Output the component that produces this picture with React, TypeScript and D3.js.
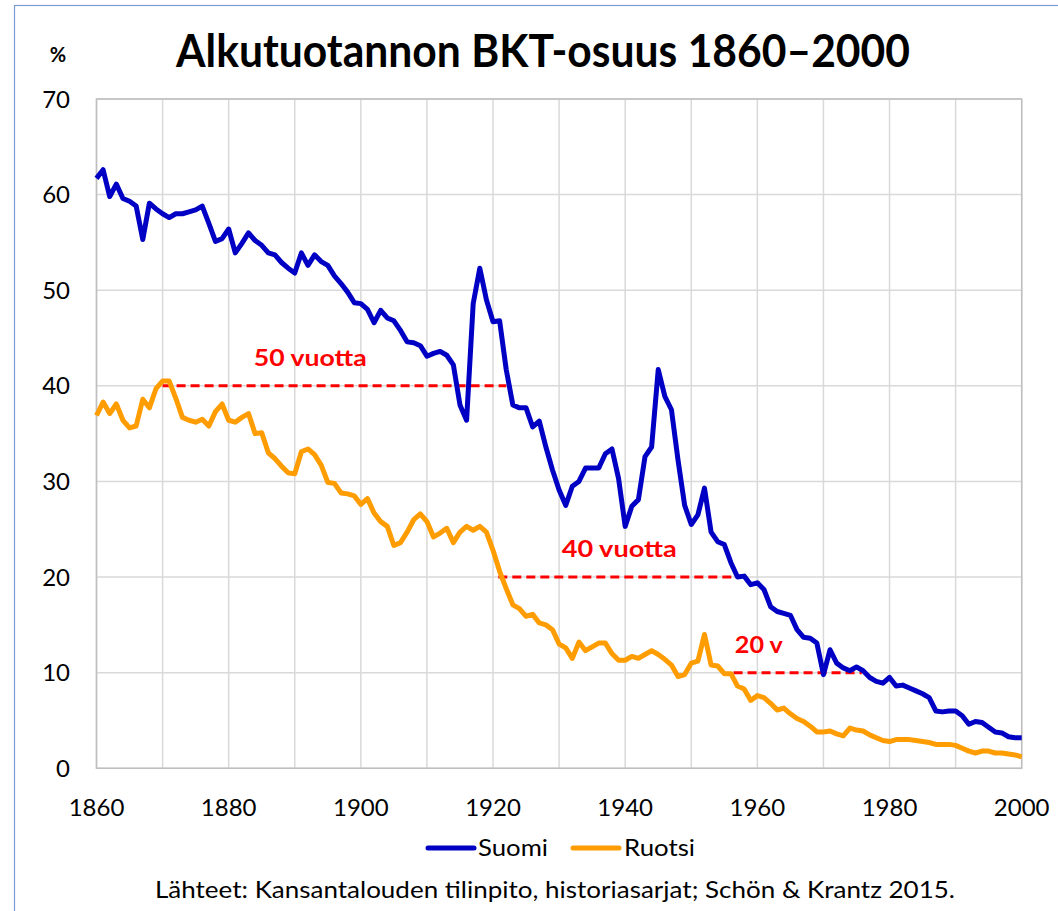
import React from 'react';
import * as d3 from 'd3';

// vuodet 1860–2000
const firstYear = 1860;
const lastYear = 2000;

const suomi = [
  61.7, 62.6, 59.8, 61.1, 59.6, 59.3, 58.8, 55.3, 59.1, 58.5,
  58.0, 57.6, 58.0, 58.0, 58.2, 58.4, 58.8, 57.0, 55.1, 55.4,
  56.4, 53.9, 54.9, 56.0, 55.2, 54.7, 53.9, 53.7, 52.9, 52.3,
  51.8, 53.9, 52.6, 53.7, 53.0, 52.6, 51.5, 50.7, 49.8, 48.7,
  48.6, 48.0, 46.6, 47.9, 47.1, 46.8, 45.8, 44.6, 44.5, 44.2,
  43.1, 43.4, 43.6, 43.2, 42.2, 38.0, 36.4, 48.6, 52.3, 49.0,
  46.7, 46.8, 41.7, 38.0, 37.7, 37.7, 35.7, 36.3, 33.6, 31.2,
  29.1, 27.5, 29.5, 30.0, 31.4, 31.4, 31.4, 32.9, 33.4, 30.3,
  25.3, 27.4, 28.1, 32.6, 33.6, 41.7, 38.9, 37.5, 32.2, 27.5,
  25.5, 26.5, 29.3, 24.7, 23.7, 23.4, 21.5, 20.0, 20.1, 19.2,
  19.4, 18.7, 16.9, 16.4, 16.2, 16.0, 14.5, 13.7, 13.6, 13.1,
  9.8, 12.4, 11.0, 10.5, 10.2, 10.6, 10.2, 9.5, 9.1, 8.9,
  9.5, 8.6, 8.7, 8.4, 8.1, 7.8, 7.4, 6.0, 5.9, 6.0,
  6.0, 5.5, 4.6, 4.9, 4.8, 4.3, 3.8, 3.7, 3.3, 3.2,
  3.2,
];

const ruotsi = [
  36.9, 38.3, 37.1, 38.1, 36.4, 35.6, 35.8, 38.6, 37.7, 39.7,
  40.5, 40.5, 38.7, 36.7, 36.4, 36.2, 36.5, 35.8, 37.3, 38.1,
  36.4, 36.2, 36.7, 37.1, 35.0, 35.1, 33.0, 32.4, 31.6, 30.9,
  30.8, 33.1, 33.4, 32.8, 31.7, 29.9, 29.8, 28.8, 28.7, 28.5,
  27.6, 28.2, 26.7, 25.8, 25.3, 23.3, 23.6, 24.7, 26.0, 26.6,
  25.8, 24.2, 24.6, 25.1, 23.6, 24.7, 25.3, 24.9, 25.3, 24.7,
  22.8, 20.6, 18.8, 17.1, 16.7, 15.9, 16.1, 15.2, 15.0, 14.5,
  13.0, 12.6, 11.5, 13.2, 12.3, 12.7, 13.1, 13.1, 12.0, 11.3,
  11.3, 11.7, 11.5, 11.9, 12.3, 11.9, 11.4, 10.8, 9.6, 9.8,
  11.0, 11.2, 14.0, 10.8, 10.7, 9.9, 9.9, 8.6, 8.3, 7.1,
  7.6, 7.4, 6.8, 6.1, 6.3, 5.7, 5.2, 4.9, 4.4, 3.8,
  3.8, 3.9, 3.6, 3.4, 4.2, 4.0, 3.9, 3.5, 3.2, 2.9,
  2.8, 3.0, 3.0, 3.0, 2.9, 2.8, 2.7, 2.5, 2.5, 2.5,
  2.4, 2.1, 1.8, 1.6, 1.8, 1.8, 1.6, 1.6, 1.5, 1.4,
  1.2,
];

const xTicks = [1860, 1880, 1900, 1920, 1940, 1960, 1980, 2000];
const yTicks = [0, 10, 20, 30, 40, 50, 60, 70];

// katkoviivat: taso, alku, loppu, teksti
const gapLevels = [40, 20, 10];
const gapStart = [1870, 1920.8, 1956.4];
const gapEnd = [1922, 1956.6, 1975.8];
const gapLabels = ['50 vuotta', '40 vuotta', '20 v'];
const gapLabelYear = [1883.8, 1930.4, 1956.6];
const gapLabelWidth = [113, 115, 48];

const font = 'Lato, "Open Sans", sans-serif';
const blue = '#0000c4';
const orange = '#ff9c00';

export default function App() {
  const width = 1058;
  const height = 911;
  const left = 96.5, right = 1021.7, top = 99, bottom = 768.3;

  const x = d3.scaleLinear().domain([firstYear, lastYear]).range([left, right]);
  const y = d3.scaleLinear().domain([0, 70]).range([bottom, top]);

  const years = d3.range(firstYear, lastYear + 1);
  const line = d3.line<number>()
    .x((d, i) => x(years[i]))
    .y(d => y(d));

  const vGrid = d3.range(firstYear, lastYear + 1, 10);

  return (
    <svg width={width} height={height} style={{ position: 'absolute', left: 0, top: 0 }} fontFamily={font}>
      <rect x={0} y={0} width={width} height={height} fill="#fff" />
      <rect x={14.5} y={5.5} width={width + 50} height={height + 50} fill="none" stroke="#7b9dd2" strokeWidth={1.2} />

      <text x={543} y={67} textAnchor="middle" fontSize={46} fontWeight={700} textLength={734} lengthAdjust="spacingAndGlyphs">Alkutuotannon BKT-osuus 1860–2000</text>
      <text x={58} y={62} textAnchor="middle" fontSize={20} fontWeight={700}>%</text>

      {/* ruudukko */}
      {yTicks.map(t => (
        <line key={'h' + t} x1={left} x2={right} y1={y(t)} y2={y(t)} stroke="#d9d9d9" strokeWidth={1.5} />
      ))}
      {vGrid.map(t => (
        <line key={'v' + t} x1={x(t)} x2={x(t)} y1={top} y2={bottom} stroke="#d9d9d9" strokeWidth={1.5} />
      ))}
      <rect x={left} y={top} width={right - left} height={bottom - top} fill="none" stroke="#bfbfbf" strokeWidth={1.5} />

      {yTicks.map(t => (
        <text key={'yl' + t} x={70} y={y(t)} dy="0.36em" textAnchor="end" fontSize={24} fill="#000">{t}</text>
      ))}
      {xTicks.map(t => (
        <text key={'xl' + t} x={x(t)} y={816} textAnchor="middle" fontSize={24} fill="#000">{t}</text>
      ))}

      {/* katkoviivat */}
      {gapLevels.map((lv, i) => (
        <g key={'g' + i}>
          <line x1={x(gapStart[i])} x2={x(gapEnd[i])} y1={y(lv)} y2={y(lv)} stroke="#ff0000" strokeWidth={3} strokeDasharray="9 5" />
          <text x={x(gapLabelYear[i])} y={y(lv) - 20} fontSize={22} fontWeight={700} fill="#ff0000" textLength={gapLabelWidth[i]} lengthAdjust="spacingAndGlyphs">{gapLabels[i]}</text>
        </g>
      ))}

      <path d={line(ruotsi) || ''} fill="none" stroke={orange} strokeWidth={5} strokeLinejoin="round" />
      <path d={line(suomi) || ''} fill="none" stroke={blue} strokeWidth={5} strokeLinejoin="round" />

      {/* selite */}
      <line x1={428} x2={474} y1={848} y2={848} stroke={blue} strokeWidth={5} strokeLinecap="round" />
      <text x={478} y={856} fontSize={24} textLength={70} lengthAdjust="spacingAndGlyphs">Suomi</text>
      <line x1={573} x2={619} y1={848} y2={848} stroke={orange} strokeWidth={5} strokeLinecap="round" />
      <text x={624} y={856} fontSize={24} textLength={71} lengthAdjust="spacingAndGlyphs">Ruotsi</text>

      <text x={155} y={898} fontSize={23} textLength={800} lengthAdjust="spacingAndGlyphs">Lähteet: Kansantalouden tilinpito, historiasarjat; Schön &amp; Krantz 2015.</text>
    </svg>
  );
}
